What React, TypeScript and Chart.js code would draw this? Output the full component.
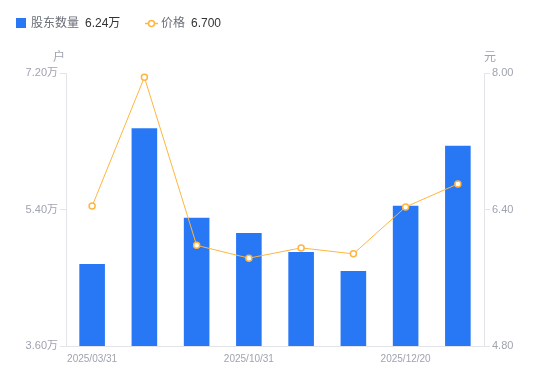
import React, { useEffect, useRef } from "react";
import { Chart, registerables } from "chart.js";

Chart.register(...registerables);

const categories = [
  "2025/03/31",
  "2025/06/30",
  "2025/09/30",
  "2025/10/31",
  "2025/11/10",
  "2025/11/30",
  "2025/12/20",
  "2025/12/31",
];
const holders = [4.68, 6.47, 5.29, 5.09, 4.84, 4.59, 5.45, 6.24]; // 万户
const prices = [6.44, 7.95, 5.98, 5.83, 5.95, 5.88, 6.43, 6.7];
const leftTicks = [3.6, 5.4, 7.2];
const rightTicks = [4.8, 6.4, 8.0];
const legendHolders = "6.24万";
const legendPrice = "6.700";

const BAR = "#2878F6";
const LINE = "#FFB53E";
const GRAY = "#A0A3B0";
const AXIS = "#E3E4E8";
const CJK = "'Liberation Sans', 'Noto Sans CJK SC', sans-serif";

const overlay = {
  id: "overlay",
  afterDraw(chart: any) {
    const ctx = chart.ctx;
    ctx.save();
    ctx.textBaseline = "middle";
    // legend
    ctx.fillStyle = BAR;
    ctx.fillRect(16, 18, 10, 10);
    ctx.font = `12px ${CJK}`;
    ctx.fillStyle = "#6B6E78";
    ctx.textAlign = "left";
    ctx.fillText("股东数量", 31, 24);
    ctx.fillStyle = "#333333";
    ctx.fillText(legendHolders, 85, 24);
    ctx.strokeStyle = LINE;
    ctx.lineWidth = 1.5;
    ctx.beginPath();
    ctx.moveTo(145, 23.5);
    ctx.lineTo(158, 23.5);
    ctx.stroke();
    ctx.beginPath();
    ctx.arc(151.5, 23.5, 3, 0, Math.PI * 2);
    ctx.fillStyle = "#fff";
    ctx.fill();
    ctx.stroke();
    ctx.fillStyle = "#6B6E78";
    ctx.fillText("价格", 161, 24);
    ctx.fillStyle = "#333333";
    ctx.fillText(legendPrice, 191, 24);
    // units
    ctx.font = `12px ${CJK}`;
    ctx.fillStyle = GRAY;
    ctx.textAlign = "center";
    const yl = chart.scales.y;
    const yr = chart.scales.y1;
    ctx.fillText("户", yl.right - 7, yl.top - 15);
    ctx.fillText("元", yr.left + 6, yr.top - 15);
    ctx.restore();
  },
};

export default function App() {
  const ref = useRef<HTMLCanvasElement>(null);
  useEffect(() => {
    if (!ref.current) return;
    const chart = new Chart(ref.current, {
      type: "bar",
      data: {
        labels: categories,
        datasets: [
          {
            type: "line",
            label: "价格",
            data: prices,
            yAxisID: "y1",
            borderColor: LINE,
            borderWidth: 1,
            pointRadius: 3,
            pointBorderWidth: 1.5,
            pointBackgroundColor: "#fff",
            pointBorderColor: LINE,
            tension: 0,
            order: 0,
          } as any,
          {
            type: "bar",
            label: "股东数量",
            data: holders,
            yAxisID: "y",
            backgroundColor: BAR,
            borderWidth: 0,
            categoryPercentage: 1,
            barPercentage: 0.49,
            order: 1,
          } as any,
        ],
      },
      options: {
        animation: false,
        responsive: false,
        maintainAspectRatio: false,
        layout: { padding: { top: 73, left: 0, right: 0, bottom: 0 } },
        plugins: { legend: { display: false }, tooltip: { enabled: false } },
        scales: {
          x: {
            offset: true,
            grid: { display: false, drawTicks: false },
            border: { color: AXIS },
            ticks: {
              autoSkip: false,
              maxRotation: 0,
              color: GRAY,
              font: { size: 10, family: CJK },
              padding: 7,
              callback: (_v: any, i: number) => (i % 3 === 0 ? categories[i] : ""),
            },
            afterFit: (s: any) => {
              s.height = 35;
            },
          },
          y: {
            position: "left",
            min: leftTicks[0],
            max: leftTicks[leftTicks.length - 1],
            afterBuildTicks: (s: any) => {
              s.ticks = leftTicks.map((v) => ({ value: v }));
            },
            grid: { drawOnChartArea: false, drawTicks: true, tickLength: 6, color: AXIS },
            border: { color: AXIS },
            ticks: {
              color: GRAY,
              font: { size: 11, family: CJK },
              padding: 2,
              callback: (v: any) => Number(v).toFixed(2) + "万",
            },
            afterFit: (s: any) => {
              s.width = 66;
            },
          },
          y1: {
            position: "right",
            min: rightTicks[0],
            max: rightTicks[rightTicks.length - 1],
            afterBuildTicks: (s: any) => {
              s.ticks = rightTicks.map((v) => ({ value: v }));
            },
            grid: { drawOnChartArea: false, drawTicks: true, tickLength: 6, color: AXIS },
            border: { color: AXIS },
            ticks: {
              color: GRAY,
              font: { size: 11, family: CJK },
              padding: 2,
              callback: (v: any) => Number(v).toFixed(2),
            },
            afterFit: (s: any) => {
              s.width = 66;
            },
          },
        },
      },
      plugins: [overlay],
    });
    return () => chart.destroy();
  }, []);
  return (
    <div style={{ position: "absolute", left: 0, top: 0, width: 550, height: 381, background: "#fff" }}>
      <canvas ref={ref} width={550} height={381} style={{ width: 550, height: 381 }} />
    </div>
  );
}
